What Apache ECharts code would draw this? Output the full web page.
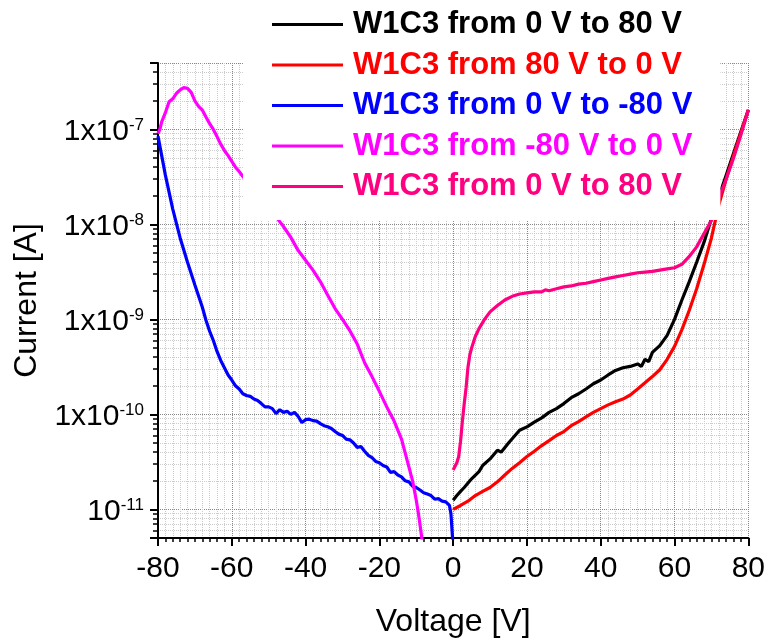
<!DOCTYPE html>
<html>
<head>
<meta charset="utf-8">
<script src="https://cdn.jsdelivr.net/npm/echarts@6/dist/echarts.min.js"></script>
<style>
  html, body { margin: 0; padding: 0; background: #fff; }
  #main { width: 768px; height: 643px; }
</style>
</head>
<body>
<div id="main"></div>
<script>
// current in A, voltage in V
var seriesNames = [
  'W1C3 from 0 V to 80 V',
  'W1C3 from 80 V to 0 V',
  'W1C3 from 0 V to -80 V',
  'W1C3 from -80 V to 0 V',
  'W1C3 from 0 V to 80 V '
]
var seriesColors = ['#000000', '#ff0000', '#0000ff', '#ff00ff', '#ff0080']

var blackUp = [
  [0, 1.25e-11], [1, 1.4e-11], [2, 1.55e-11], [3, 1.7e-11], [5, 2.1e-11], [7, 2.5e-11],
  [8, 2.9e-11], [10, 3.4e-11], [12, 4.2e-11], [13, 4.0e-11], [15, 5.0e-11], [18, 6.8e-11],
  [20, 7.4e-11], [22, 8.3e-11], [24, 9.2e-11], [26, 1.05e-10], [28, 1.15e-10], [30, 1.3e-10],
  [32, 1.5e-10], [34, 1.65e-10], [36, 1.85e-10], [38, 2.1e-10], [40, 2.3e-10], [42, 2.6e-10],
  [44, 2.9e-10], [46, 3.1e-10], [48, 3.2e-10], [50, 3.4e-10], [51, 3.2e-10], [52, 3.8e-10],
  [53, 3.6e-10], [54, 4.5e-10], [56, 5.3e-10], [58, 6.8e-10], [60, 1.0e-9], [62, 1.6e-9],
  [64, 2.5e-9], [66, 4.0e-9], [68, 6.5e-9], [70, 1.15e-8], [72, 1.95e-8], [74, 3.3e-8],
  [76, 5.6e-8], [78, 9.5e-8], [80, 1.6e-7]
]
var redDown = [
  [0, 1.0e-11], [2, 1.1e-11], [4, 1.22e-11], [6, 1.4e-11], [8, 1.55e-11], [10, 1.7e-11],
  [12, 1.95e-11], [14, 2.3e-11], [16, 2.7e-11], [18, 3.1e-11], [20, 3.6e-11], [22, 4.1e-11],
  [24, 4.7e-11], [26, 5.3e-11], [28, 6.0e-11], [30, 6.6e-11], [32, 7.6e-11], [34, 8.4e-11],
  [36, 9.4e-11], [38, 1.05e-10], [40, 1.15e-10], [42, 1.26e-10], [44, 1.36e-10], [46, 1.45e-10],
  [48, 1.6e-10], [50, 1.85e-10], [52, 2.15e-10], [54, 2.5e-10], [56, 2.95e-10], [58, 3.8e-10],
  [60, 5.2e-10], [62, 7.8e-10], [64, 1.25e-9], [66, 2.1e-9], [68, 3.8e-9], [70, 7.2e-9],
  [72, 1.6e-8], [74, 3.0e-8], [76, 5.3e-8], [78, 9.2e-8], [80, 1.6e-7]
]
var blueNeg = [
  [0, 4e-12], [-0.3, 6e-12], [-0.6, 9e-12], [-1, 1.1e-11], [-2, 1.2e-11], [-3, 1.22e-11],
  [-4, 1.3e-11], [-5, 1.28e-11], [-6, 1.4e-11], [-7, 1.45e-11], [-8, 1.5e-11], [-9, 1.6e-11],
  [-10, 1.7e-11], [-11, 1.75e-11], [-12, 1.95e-11], [-13, 2.0e-11], [-14, 2.2e-11], [-15, 2.3e-11],
  [-16, 2.5e-11], [-17, 2.45e-11], [-18, 2.8e-11], [-19, 2.9e-11], [-20, 3.1e-11], [-21, 3.2e-11],
  [-22, 3.5e-11], [-23, 3.7e-11], [-24, 4.1e-11], [-25, 4.6e-11], [-26, 4.5e-11], [-27, 5.0e-11],
  [-28, 5.4e-11], [-29, 5.5e-11], [-30, 6.0e-11], [-31, 6.2e-11], [-32, 6.6e-11], [-33, 7.1e-11],
  [-34, 7.4e-11], [-35, 7.6e-11], [-36, 8.0e-11], [-37, 8.5e-11], [-38, 8.6e-11], [-39, 8.9e-11],
  [-40, 8.8e-11], [-41, 8.2e-11], [-42, 9.5e-11], [-43, 1.05e-10], [-44, 1.0e-10], [-45, 1.08e-10],
  [-46, 1.05e-10], [-47, 1.12e-10], [-48, 1.02e-10], [-49, 1.15e-10], [-50, 1.2e-10], [-51, 1.2e-10],
  [-52, 1.3e-10], [-53, 1.4e-10], [-54, 1.45e-10], [-55, 1.55e-10], [-56, 1.58e-10], [-57, 1.65e-10],
  [-58, 1.85e-10], [-59, 2.0e-10], [-60, 2.3e-10], [-61, 2.6e-10], [-62, 3.1e-10], [-63, 3.7e-10],
  [-64, 4.6e-10], [-65, 6.0e-10], [-66, 7.5e-10], [-67, 9.8e-10], [-68, 1.35e-9], [-70, 2.3e-9],
  [-72, 4.0e-9], [-74, 7.2e-9], [-76, 1.45e-8], [-78, 3.3e-8], [-80, 8.5e-8]
]
var magentaBack = [
  [-80, 9e-8], [-79.5, 1.0e-7], [-79, 1.2e-7], [-78, 1.5e-7], [-77, 1.95e-7], [-76, 2.1e-7],
  [-75, 2.4e-7], [-74.5, 2.35e-7], [-74, 2.6e-7], [-73, 2.75e-7], [-72, 2.7e-7], [-71, 2.45e-7],
  [-70, 2.0e-7], [-69, 1.75e-7], [-68, 1.6e-7], [-67, 1.35e-7], [-66, 1.15e-7], [-65, 1.0e-7],
  [-64, 8.4e-8], [-63, 7.0e-8], [-62, 6.0e-8], [-61, 5.3e-8], [-60, 4.6e-8], [-59, 4.0e-8],
  [-58, 3.6e-8], [-57, 3.2e-8], [-55, 2.6e-8], [-52, 1.9e-8], [-50, 1.5e-8], [-48, 1.2e-8],
  [-46, 9.5e-9], [-44, 7.3e-9], [-42, 5.3e-9], [-40, 4.2e-9], [-38, 3.3e-9], [-36, 2.5e-9],
  [-34, 1.8e-9], [-32, 1.3e-9], [-30, 1.0e-9], [-28, 7.6e-10], [-26, 5.5e-10], [-24, 3.5e-10],
  [-22, 2.5e-10], [-20, 1.75e-10], [-18, 1.2e-10], [-16, 8.5e-11], [-14, 5.5e-11], [-12, 2.8e-11],
  [-11, 2.0e-11], [-10, 1.25e-11], [-9.5, 9.5e-12], [-9, 7e-12], [-8.5, 5e-12], [-8, 4e-12]
]
var pinkUp = [
  [0, 2.6e-11], [1, 3.1e-11], [1.5, 3.6e-11], [2, 5.2e-11], [2.5, 8.5e-11], [3, 1.3e-10],
  [3.5, 1.9e-10], [4, 3.1e-10], [4.5, 4.2e-10], [5, 5.0e-10], [6, 6.6e-10], [7, 8.0e-10],
  [8.5, 1.0e-9], [10, 1.2e-9], [12, 1.4e-9], [14, 1.6e-9], [16, 1.75e-9], [18, 1.85e-9],
  [20, 1.9e-9], [22, 1.95e-9], [24, 1.95e-9], [25, 2.05e-9], [26, 2.0e-9], [28, 2.1e-9], [30, 2.2e-9],
  [32, 2.25e-9], [34, 2.35e-9], [36, 2.4e-9], [38, 2.5e-9], [40, 2.6e-9], [42, 2.7e-9],
  [44, 2.8e-9], [46, 2.9e-9], [48, 3.0e-9], [50, 3.1e-9], [52, 3.15e-9], [54, 3.2e-9],
  [56, 3.3e-9], [58, 3.4e-9], [60, 3.5e-9], [62, 3.8e-9], [64, 4.6e-9], [66, 5.8e-9],
  [68, 8.0e-9], [70, 1.1e-8], [72, 1.9e-8], [74, 3.0e-8], [76, 5.0e-8], [78, 8.8e-8], [80, 1.6e-7]
]
var allCurves = [blackUp, redDown, blueNeg, magentaBack, pinkUp]

// tick labels
var xTicks = [-80, -60, -40, -20, 0, 20, 40, 60, 80]
var yTickExps = [-11, -10, -9, -8, -7]
var yTickPrefix = ['', '1x', '1x', '1x', '1x']

// plot in pA so the log scale does not round tiny values
var PA = 1e12
var font = "'Liberation Sans', Arial, sans-serif"

var chart = echarts.init(document.getElementById('main'))

var series = allCurves.map(function (curve, i) {
  return {
    name: seriesNames[i],
    type: 'line',
    symbol: 'none',
    showSymbol: false,
    clip: true,
    color: seriesColors[i],
    lineStyle: { width: 3.2, color: seriesColors[i] },
    data: curve.map(function (p) { return [p[0], p[1] * PA] })
  }
})

var option = {
  animation: false,
  backgroundColor: '#fff',
  grid: { left: 158, right: 17, top: 63, bottom: 100 },
  legend: {
    orient: 'vertical',
    left: 243,
    top: 0,
    padding: [9, 28, 18, 29],
    backgroundColor: '#fff',
    itemWidth: 71,
    itemHeight: 3,
    itemGap: 9.5,
    icon: 'rect',
    selectedMode: false,
    textStyle: { fontSize: 31, fontWeight: 'bold', fontFamily: font, lineHeight: 30, padding: [0, 0, 0, 5] },
    data: seriesNames.map(function (n, i) {
      return { name: n, textStyle: { color: seriesColors[i] } }
    })
  },
  xAxis: {
    type: 'value',
    min: -80,
    max: 80,
    interval: 20,
    name: 'Voltage [V]',
    nameLocation: 'middle',
    nameGap: 68,
    nameTextStyle: { fontSize: 32, color: '#000', fontFamily: font },
    axisLine: { show: true, onZero: false, lineStyle: { color: '#000', width: 2 } },
    axisTick: { show: true, length: 8, lineStyle: { color: '#000', width: 2 } },
    minorTick: { show: true, splitNumber: 10, length: 4, lineStyle: { color: '#000', width: 1.5 } },
    splitLine: { show: true, lineStyle: { type: 'dotted', color: '#888', width: 1 } },
    minorSplitLine: { show: true, lineStyle: { type: 'dotted', color: '#ccc', width: 1 } },
    axisLabel: {
      fontSize: 30, color: '#000', fontFamily: font, margin: 16,
      formatter: function (v) { return xTicks.indexOf(v) >= 0 ? String(v) : '' }
    }
  },
  yAxis: {
    type: 'log',
    logBase: 10,
    min: 5,
    max: 5e5,
    name: 'Current [A]',
    nameLocation: 'middle',
    nameGap: 112,
    nameTextStyle: { fontSize: 32, color: '#000', fontFamily: font },
    axisLine: { show: true, onZero: false, lineStyle: { color: '#000', width: 2 } },
    axisTick: { show: true, length: 8, lineStyle: { color: '#000', width: 2 } },
    minorTick: { show: true, splitNumber: 9, length: 5, lineStyle: { color: '#000', width: 1.5 } },
    splitLine: { show: true, lineStyle: { type: 'dotted', color: '#888', width: 1 } },
    minorSplitLine: { show: true, lineStyle: { type: 'dotted', color: '#ccc', width: 1 } },
    axisLabel: {
      showMinLabel: false,
      showMaxLabel: false,
      margin: 14,
      padding: [5, 0, 0, 0],
      formatter: function (v) {
        var e = Math.round(Math.log10(v)) - 12
        var k = yTickExps.indexOf(e)
        if (k < 0 || Math.abs(Math.log10(v) - Math.round(Math.log10(v))) > 1e-6) return ''
        return '{b|' + yTickPrefix[k] + '10}{s|' + e + '}'
      },
      rich: {
        b: { fontSize: 30, color: '#000', fontFamily: font, lineHeight: 30 },
        s: { fontSize: 17, color: '#000', fontFamily: font, verticalAlign: 'top', lineHeight: 17 }
      }
    }
  },
  series: series
}

chart.setOption(option)
</script>
</body>
</html>
